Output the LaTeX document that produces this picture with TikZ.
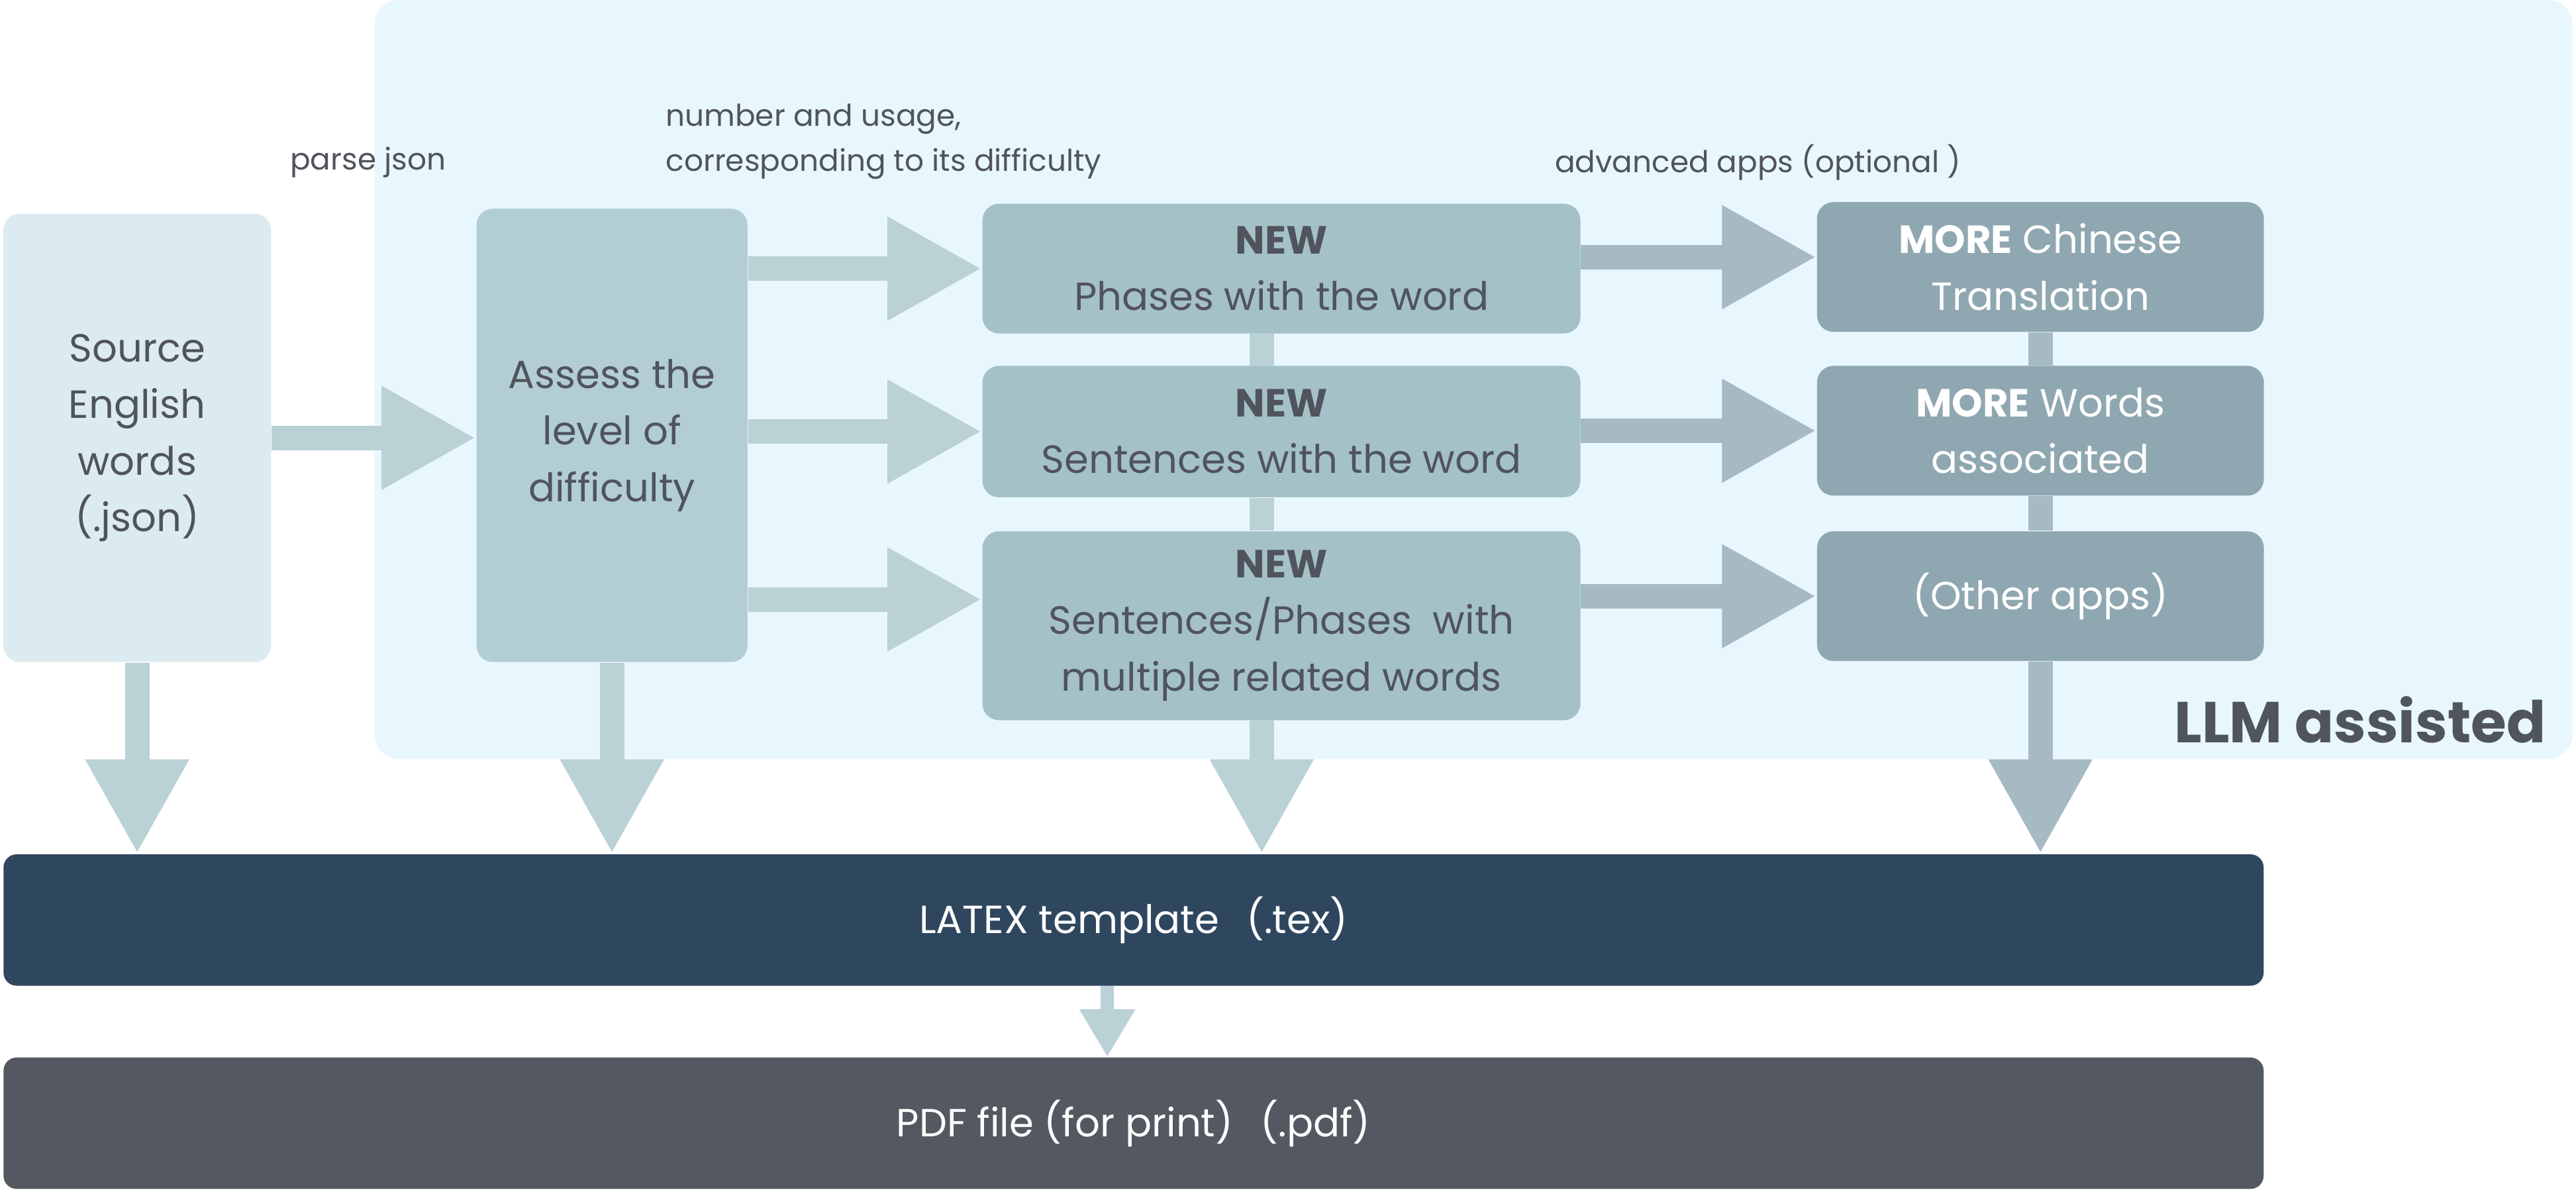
\documentclass[tikz,border=0pt]{standalone}
\usepackage{fontspec}
\setmainfont{Poppins}
\usepackage{xcolor}
\usetikzlibrary{arrows.meta,positioning}

\definecolor{llmbg}{HTML}{E8F7FD}
\definecolor{srcfill}{HTML}{DCEBF0}
\definecolor{assessfill}{HTML}{B2CED4}
\definecolor{newfill}{HTML}{A4C1C7}
\definecolor{morefill}{HTML}{8FA7B0}
\definecolor{lightarr}{HTML}{BAD1D6}
\definecolor{grayarr}{HTML}{A6BAC4}
\definecolor{latexfill}{HTML}{2F475E}
\definecolor{pdffill}{HTML}{545961}
\definecolor{txtdark}{HTML}{50545C}

\begin{document}
\begin{tikzpicture}[x=0.02cm, y=-0.02cm,
  box/.style={rounded corners=0.2cm, inner sep=0pt, align=center, text=txtdark, font=\fontsize{13.6}{19.6}\selectfont},
  morebox/.style={box, fill=morefill, text=white, minimum width=5.44cm},
  bar/.style={box, text=white, minimum width=27.52cm, minimum height=1.6cm, rounded corners=0.16cm},
  note/.style={text=txtdark, inner sep=0pt, font=\fontsize{10.4}{15.6}\selectfont},
  bigarr/.style={lightarr, line width=0.3cm, -{Triangle[width=1.18cm, length=1.15cm]}},
  vbar/.style={lightarr, line width=0.3cm},
  smallarr/.style={lightarr, line width=0.16cm, -{Triangle[width=0.64cm, length=0.58cm]}}
]
\useasboundingbox (0,0) rectangle (1568,724);
\fill[llmbg, rounded corners=0.3cm] (228,0) rectangle (1566,462);

\node[box, fill=srcfill, minimum width=3.26cm, minimum height=5.46cm] (src) at (83.5,266.5) {Source\\English\\words\\(.json)};
\node[box, fill=assessfill, minimum width=3.3cm, minimum height=5.52cm] (assess) at (372.5,265) {Assess the\\level of\\difficulty};

\node[box, fill=newfill, minimum width=7.28cm, minimum height=1.58cm] (n1) at (780,163.5) {\textbf{NEW}\\Phases with the word};
\node[box, fill=newfill, minimum width=7.28cm, minimum height=1.6cm, below=0.38cm of n1] (n2) {\textbf{NEW}\\Sentences with the word};
\node[box, fill=newfill, minimum width=7.28cm, minimum height=2.3cm, below=0.4cm of n2] (n3) {\textbf{NEW}\\Sentences/Phases\ \ with\\multiple related words};

\node[morebox, minimum height=1.58cm] (m1) at (1242,162.5) {\textbf{MORE} Chinese\\Translation};
\node[morebox, minimum height=1.58cm, below=0.4cm of m1] (m2) {\textbf{MORE} Words\\associated};
\node[morebox, minimum height=1.58cm, below=0.42cm of m2] (m3) {(Other apps)};

\node[bar, fill=latexfill] (latex) at (690,560) {LATEX template\hspace{0.7em}(.tex)};
\node[bar, fill=pdffill, below=0.86cm of latex] (pdf) {PDF file (for print)\hspace{0.7em}(.pdf)};

\node[note] (parse) at (224,99) {parse json};
\node[note, anchor=west, align=left] (usage) at (405,86) {number and usage,\\corresponding to its difficulty};
\node[note] (adv) at (1070,99) {advanced apps (optional )};
\node[text=txtdark, inner sep=0pt, anchor=east, font=\bfseries\fontsize{20}{24}\selectfont] (llmlabel) at (1550,438) {LLM assisted};

\draw[bigarr] (src.east) -- (src.east -| assess.west);
\draw[bigarr] (assess.east |- n1.west) -- (n1.west);
\draw[bigarr] (assess.east |- n2.west) -- (n2.west);
\draw[bigarr] ([yshift=0.32cm]n3.west -| assess.east) -- ([yshift=0.32cm]n3.west);
\draw[bigarr, grayarr] ([yshift=0.12cm]m1.west -| n1.east) -- ([yshift=0.12cm]m1.west);
\draw[bigarr, grayarr] (m2.west -| n2.east) -- (m2.west);
\draw[bigarr, grayarr] (m3.west -| n3.east) -- (m3.west);

\draw[vbar] ([xshift=-0.24cm]n1.south) -- ([xshift=-0.24cm]n2.north);
\draw[vbar] ([xshift=-0.24cm]n2.south) -- ([xshift=-0.24cm]n3.north);
\draw[vbar, grayarr] (m1.south) -- (m2.north);
\draw[vbar, grayarr] (m2.south) -- (m3.north);

\draw[bigarr] (src.south) -- (src.south |- latex.north);
\draw[bigarr] (assess.south) -- (assess.south |- latex.north);
\draw[bigarr] ([xshift=-0.24cm]n3.south) -- ([xshift=-0.24cm]n3.south |- latex.north);
\draw[bigarr, grayarr] (m3.south) -- (m3.south |- latex.north);
\draw[smallarr] ([xshift=-0.32cm]latex.south) -- ([xshift=-0.32cm]latex.south |- pdf.north);
\end{tikzpicture}
\end{document}
